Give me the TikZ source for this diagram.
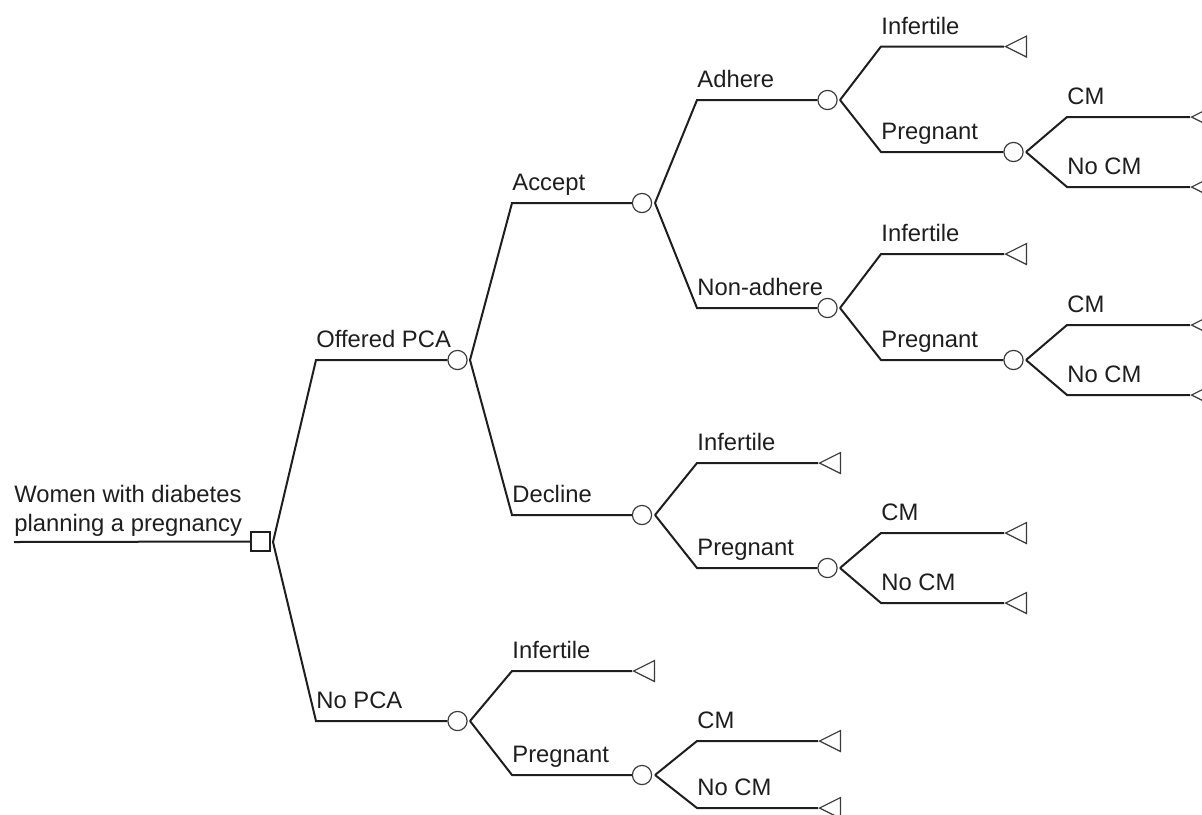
\documentclass[tikz,border=0pt]{standalone}
\usepackage{fontspec}
\setmainfont{Liberation Sans}
\usetikzlibrary{shapes.geometric}
\definecolor{ink}{HTML}{1E1E1E}
\definecolor{nodeink}{HTML}{3A3A3A}
\tikzset{
  branch/.style={draw=ink, line width=1pt, line join=miter},
  chance/.style={circle, draw=nodeink, line width=0.6pt, minimum size=9.6pt, inner sep=0pt},
  decision/.style={rectangle, draw=ink, line width=0.75pt, minimum size=9.5pt, inner sep=0pt},
  terminal/.style={isosceles triangle, shape border rotate=180, isosceles triangle stretches,
     draw=nodeink, line width=0.6pt, minimum width=10.5pt, minimum height=10.5pt, inner sep=0pt, anchor=apex},
  lab/.style={anchor=base west, inner sep=0pt, text=ink, font=\fontsize{11.9}{14}\selectfont},
}
\begin{document}
\begin{tikzpicture}[x=0.5pt,y=-0.5pt]
\useasboundingbox (0,0) rectangle (1202,814);
\clip (0,0) rectangle (1202,814);

% root
\coordinate (r0) at (14,542);
\node[decision] (d) at (260.5,541.5) {};
\coordinate (dout) at (273,542);
\node[lab] (rl1) at (14,502) {Women with diabetes};
\node[lab] (rl2) at (14,531) {planning a pregnancy};
\draw[branch] (r0) -- (d.west);

% level 1
\coordinate (eoff) at (316,360);
\node[chance] (off) at (457.5,360) {};
\coordinate (offout) at (470,360);
\coordinate (enop) at (316,721);
\node[chance] (nop) at (457.5,721) {};
\coordinate (nopout) at (470,721);
\draw[branch] (dout) -- (eoff) -- (off.west);
\draw[branch] (dout) -- (enop) -- (nop.west);
\node[lab] at ([yshift=6.25pt]eoff) {Offered PCA};
\node[lab] at ([yshift=6.25pt]enop) {No PCA};

% level 2
\coordinate (eacc) at (512,203);
\node[chance] (acc) at (642,203) {};
\coordinate (accout) at (655,203);
\coordinate (edec) at (512,515);
\node[chance] (dec) at (642,515) {};
\coordinate (decout) at (655,515);
\draw[branch] (offout) -- (eacc) -- (acc.west);
\draw[branch] (offout) -- (edec) -- (dec.west);
\node[lab] at ([yshift=6.25pt]eacc) {Accept};
\node[lab] at ([yshift=6.25pt]edec) {Decline};

\coordinate (enoinf) at (512,671);
\node[terminal] (noinf) at (632,671) {};
\coordinate (enopreg) at (512,775);
\node[chance] (nopreg) at (642,775) {};
\coordinate (nopregout) at (655,775);
\draw[branch] (nopout) -- (enoinf) -- (noinf.apex);
\draw[branch] (nopout) -- (enopreg) -- (nopreg.west);
\node[lab] at ([yshift=6.25pt]enoinf) {Infertile};
\node[lab] at ([yshift=6.25pt]enopreg) {Pregnant};

% level 3
\coordinate (eadh) at (697,100);
\node[chance] (adh) at (827.5,100) {};
\coordinate (adhout) at (840,100);
\coordinate (enon) at (697,308);
\node[chance] (non) at (827.5,308) {};
\coordinate (nonout) at (840,308);
\draw[branch] (accout) -- (eadh) -- (adh.west);
\draw[branch] (accout) -- (enon) -- (non.west);
\node[lab] at ([yshift=6.25pt]eadh) {Adhere};
\node[lab] at ([yshift=6.25pt]enon) {Non-adhere};

\coordinate (edinf) at (697,463);
\node[terminal] (dinf) at (818,463) {};
\coordinate (edpreg) at (697,568);
\node[chance] (dpreg) at (827.5,568) {};
\coordinate (dpregout) at (840,568);
\draw[branch] (decout) -- (edinf) -- (dinf.apex);
\draw[branch] (decout) -- (edpreg) -- (dpreg.west);
\node[lab] at ([yshift=6.25pt]edinf) {Infertile};
\node[lab] at ([yshift=6.25pt]edpreg) {Pregnant};

\coordinate (encm) at (697,741);
\node[terminal] (ncm) at (818,741) {};
\coordinate (ennocm) at (697,808);
\node[terminal] (nnocm) at (818,808) {};
\draw[branch] (nopregout) -- (encm) -- (ncm.apex);
\draw[branch] (nopregout) -- (ennocm) -- (nnocm.apex);
\node[lab] at ([yshift=6.25pt]encm) {CM};
\node[lab] at ([yshift=6.25pt]ennocm) {No CM};

% level 4
\coordinate (eainf) at (881,46.5);
\node[terminal] (ainf) at (1004,46.5) {};
\coordinate (eapreg) at (881,152);
\node[chance] (apreg) at (1013.5,152) {};
\coordinate (apregout) at (1026,152);
\draw[branch] (adhout) -- (eainf) -- (ainf.apex);
\draw[branch] (adhout) -- (eapreg) -- (apreg.west);
\node[lab] at ([yshift=6.25pt]eainf) {Infertile};
\node[lab] at ([yshift=6.25pt]eapreg) {Pregnant};

\coordinate (eninf) at (881,254);
\node[terminal] (ninf) at (1004,254) {};
\coordinate (enpreg) at (881,360);
\node[chance] (npreg) at (1013.5,360) {};
\coordinate (npregout) at (1026,360);
\draw[branch] (nonout) -- (eninf) -- (ninf.apex);
\draw[branch] (nonout) -- (enpreg) -- (npreg.west);
\node[lab] at ([yshift=6.25pt]eninf) {Infertile};
\node[lab] at ([yshift=6.25pt]enpreg) {Pregnant};

\coordinate (edcm) at (881,533);
\node[terminal] (dcm) at (1004,533) {};
\coordinate (ednocm) at (881,603);
\node[terminal] (dnocm) at (1004,603) {};
\draw[branch] (dpregout) -- (edcm) -- (dcm.apex);
\draw[branch] (dpregout) -- (ednocm) -- (dnocm.apex);
\node[lab] at ([yshift=6.25pt]edcm) {CM};
\node[lab] at ([yshift=6.25pt]ednocm) {No CM};

% level 5
\coordinate (eacm) at (1067,117);
\node[terminal] (acm) at (1190,117) {};
\coordinate (eanocm) at (1067,187);
\node[terminal] (anocm) at (1190,187) {};
\draw[branch] (apregout) -- (eacm) -- (acm.apex);
\draw[branch] (apregout) -- (eanocm) -- (anocm.apex);
\node[lab] at ([yshift=6.25pt]eacm) {CM};
\node[lab] at ([yshift=6.25pt]eanocm) {No CM};

\coordinate (encm2) at (1067,325);
\node[terminal] (ncm2) at (1190,325) {};
\coordinate (ennocm2) at (1067,395);
\node[terminal] (nnocm2) at (1190,395) {};
\draw[branch] (npregout) -- (encm2) -- (ncm2.apex);
\draw[branch] (npregout) -- (ennocm2) -- (nnocm2.apex);
\node[lab] at ([yshift=6.25pt]encm2) {CM};
\node[lab] at ([yshift=6.25pt]ennocm2) {No CM};
\end{tikzpicture}
\end{document}
